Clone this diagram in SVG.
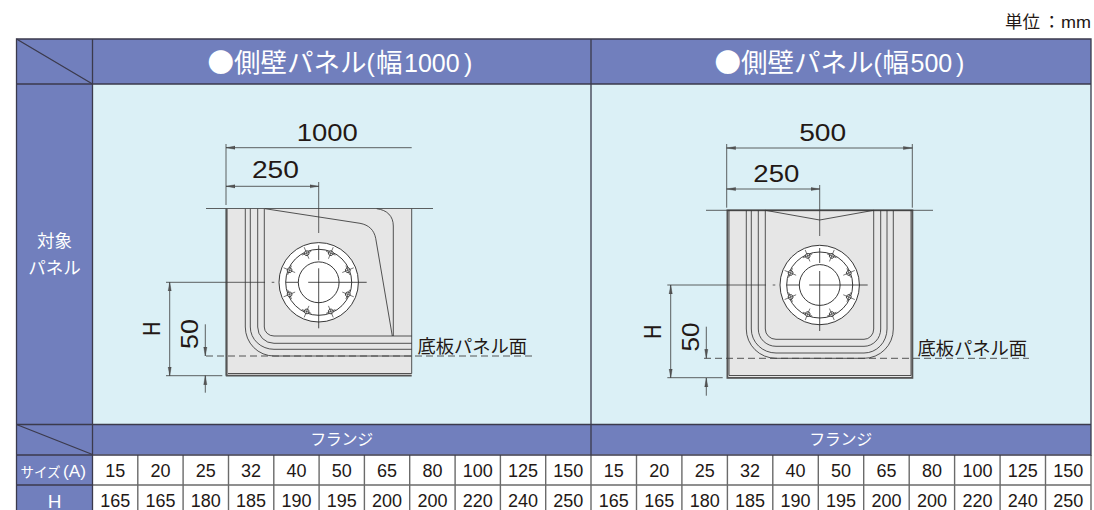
<svg xmlns="http://www.w3.org/2000/svg" width="1094" height="510" viewBox="0 0 1094 510">
<style>
text{font-family:"Liberation Sans",Arial,sans-serif;fill:#231815}
.jp{font-family:"Noto Sans CJK JP","Liberation Sans",sans-serif}
.w{fill:#fff}
.m{text-anchor:middle}
.n{font-size:18px;text-anchor:middle}
.dim{font-size:23px;text-anchor:middle}
.hd{fill:#717fbd}
.grid{stroke:#6b6b6b;stroke-width:1.4;fill:none}
.dk{stroke:#3b3a4c;stroke-width:1.3;fill:none}
.l{stroke:#2b2b2b;stroke-width:.8;fill:none}
.g{stroke:#3a3a3a;stroke-width:.8;fill:none}
.a{stroke:#3a3a3a;stroke-width:.8;fill:none;marker-end:url(#ar)}
.aa{stroke:#3a3a3a;stroke-width:.8;fill:none;marker-start:url(#ar);marker-end:url(#ar)}
.as{stroke:#3a3a3a;stroke-width:.8;fill:none;marker-start:url(#ar)}
.dash{stroke:#444;stroke-width:.9;fill:none;stroke-dasharray:7 4}
.panel{fill:#e6e6e6}
</style>
<defs>
<marker id="ar" markerUnits="userSpaceOnUse" markerWidth="10" markerHeight="6" refX="9" refY="2.5" orient="auto-start-reverse"><path d="M0 .9L9 2.5L0 4.1Z" fill="#555" stroke="#333" stroke-width=".3"/></marker>
<g id="bolt"><circle cx="0" cy="-31.5" r="2.4" fill="#e8e8e8" stroke="#333" stroke-width=".8"/><path d="M0-38V-25.5M-5-31.5H5" stroke="#333" stroke-width=".6" fill="none"/></g>
<g id="flange">
<circle r="39.7" fill="#fff" stroke="#222" stroke-width=".9"/>
<circle r="33" fill="none" stroke="#222" stroke-width=".9"/>
<circle r="20.4" fill="none" stroke="#222" stroke-width=".9"/>
<use href="#bolt" transform="rotate(22.5)"/><use href="#bolt" transform="rotate(67.5)"/><use href="#bolt" transform="rotate(112.5)"/><use href="#bolt" transform="rotate(157.5)"/><use href="#bolt" transform="rotate(202.5)"/><use href="#bolt" transform="rotate(247.5)"/><use href="#bolt" transform="rotate(292.5)"/><use href="#bolt" transform="rotate(337.5)"/>
<path d="M-33 0H-20.4M-10.5 0H48M0-37V-22M0-14V46" stroke="#222" stroke-width=".8" fill="none"/>
</g>
</defs>
<rect width="1094" height="510" fill="#fff"/>
<text x="1005" y="28" font-size="17"><tspan class="jp" font-size="17.5">単位</tspan><tspan class="jp" x="1043" font-size="17.5">：</tspan><tspan x="1061" font-size="17" textLength="30" lengthAdjust="spacingAndGlyphs">mm</tspan></text>

<g id="table-fills">
<rect class="hd" x="16.5" y="39" width="1074.5" height="45"/>
<rect class="hd" x="16.5" y="84" width="76" height="426"/>
<rect x="92.5" y="84" width="998.5" height="340.5" fill="#dbf0f6"/>
<rect class="hd" x="92.5" y="424.5" width="998.5" height="30"/>
</g>

<g id="panel-left">
<rect class="panel" x="226" y="208.7" width="185.7" height="167"/>
<path class="l" d="M226 375.7V208.7" stroke-width="1"/>
<path d="M226.7 208.7V375.7H411.7" fill="none" stroke="#555" stroke-width="1.8"/>
<path class="l" d="M228 373.5H411.7V208.7"/>
<path class="l" d="M245.3 208.7V327A28.7 29 0 0 0 274 356H411.7M250.3 208.7V327A23.7 22.3 0 0 0 274 349.3H411.7M257.7 208.7V327A16.3 16.3 0 0 0 274 343.3H411.7M264.3 208.7V327A9.7 9 0 0 0 274 336H411.7"/>
<path class="l" d="M265 208.7L360 223.3C369 225 374 230 375.7 238.3L392.3 336M376.7 208.7C387 210 393.3 216 393.3 226V336"/>
<use href="#flange" x="318.7" y="282.3"/>
<path class="g" d="M226 144V205M318.7 182V233M206 208.5H433M166 282.3H265M271.7 282.3H274.3M166 375.7H222.3"/>
<path class="as" d="M226 147.7H411.7"/>
<path class="aa" d="M226 186.3H318.7"/>
<path class="aa" d="M169.7 282.3V375.7"/>
<path class="a" d="M205.3 324.3V356"/>
<path class="a" d="M205.3 392.7V375.7"/>
<path class="dash" d="M206 356H532"/>
<text class="dim" x="327.2" y="140.7" textLength="61" lengthAdjust="spacingAndGlyphs">1000</text>
<text class="dim" x="275.4" y="178.3" textLength="47" lengthAdjust="spacingAndGlyphs">250</text>
<text class="dim" transform="translate(160 328.7) rotate(-90)" font-size="22" textLength="14" lengthAdjust="spacingAndGlyphs">H</text>
<text class="dim" transform="translate(198.3 334) rotate(-90)" textLength="30" lengthAdjust="spacingAndGlyphs">50</text>
<text class="jp m" x="472.3" y="352.5" font-size="18.3">底板パネル面</text>
</g>

<g id="panel-right">
<rect class="panel" x="726.7" y="210.3" width="186.3" height="168"/>
<rect x="727.4" y="210.3" width="185" height="167.6" fill="none" stroke="#555" stroke-width="1.8"/>
<path class="l" d="M729 375.5H911M729 210.3V375.5M911 210.3V375.5"/>
<path class="l" d="M746.3 210.3V329A29.7 29.3 0 0 0 776 358.3H864A29.3 29.3 0 0 0 893.3 329V210.3M751.3 210.3V329A24.7 24 0 0 0 776 353H864A23 24 0 0 0 887 329V210.3M758.3 210.3V329A17.7 17.3 0 0 0 776 346.3H864A16.7 17.3 0 0 0 880.7 329V210.3M765.3 210.3V329A10.7 10.3 0 0 0 776 339.3H864A9.7 10.3 0 0 0 873.7 329V210.3"/>
<path class="l" d="M765.3 210.3L819.7 220L873.7 210.3"/>
<use href="#flange" x="819.7" y="285"/>
<path class="g" d="M726.7 144V207.7M912.3 144V207.7M819.7 185V236M706 210.3H933M667.3 285H766M772.7 285H775.3M667.3 377.7H722.7"/>
<path class="aa" d="M726.7 148H912.3"/>
<path class="aa" d="M726.7 189H819.7"/>
<path class="aa" d="M670.7 285V377.7"/>
<path class="a" d="M706.3 326.7V358.3"/>
<path class="a" d="M706.3 395.7V378"/>
<path class="dash" d="M704 358.3H1029"/>
<text class="dim" x="822.7" y="140.7" textLength="47" lengthAdjust="spacingAndGlyphs">500</text>
<text class="dim" x="776.3" y="181.7" textLength="46" lengthAdjust="spacingAndGlyphs">250</text>
<text class="dim" transform="translate(661.3 331.7) rotate(-90)" font-size="22" textLength="14" lengthAdjust="spacingAndGlyphs">H</text>
<text class="dim" transform="translate(699.3 337) rotate(-90)" textLength="29" lengthAdjust="spacingAndGlyphs">50</text>
<text class="jp m" x="972.3" y="355" font-size="18.3">底板パネル面</text>
</g>

<g id="table-lines">
<path class="grid" d="M92.5 485H1091M137.8 455V510M183.1 455V510M228.5 455V510M273.8 455V510M319.1 455V510M364.4 455V510M409.7 455V510M455.1 455V510M500.4 455V510M545.7 455V510M591 455V510M636.5 455V510M681.9 455V510M727.4 455V510M772.8 455V510M818.3 455V510M863.7 455V510M909.2 455V510M954.6 455V510M1000.1 455V510M1045.5 455V510M1091 455V510"/>
<path class="dk" d="M16.5 39H1091V455H16.5ZM16.5 39V510M92.5 39V510M16.5 84H1091M16.5 424.5H1091M16.5 455H1091M16.5 485H92.5M591 39V455"/>
<path class="dk" d="M16.5 39L92.5 84M16.5 424.5L92.5 454.5" stroke-width="1"/>
</g>

<g id="headers">
<text class="w" y="71.5" font-size="26.5"><tspan class="jp w" x="207.5">●側壁パネル</tspan><tspan class="w" x="366.6" font-size="25">(</tspan><tspan class="jp w" x="376">幅</tspan><tspan class="w" x="404" font-size="25">1000</tspan><tspan class="w" x="464" font-size="25">)</tspan></text>
<text class="w" y="71.5" font-size="26.5"><tspan class="jp w" x="714.5">●側壁パネル</tspan><tspan class="w" x="873.6" font-size="25">(</tspan><tspan class="jp w" x="882.5">幅</tspan><tspan class="w" x="910.5" font-size="25">500</tspan><tspan class="w" x="956" font-size="25">)</tspan></text>
<text class="jp w m" x="54.5" y="247" font-size="17.5">対象</text>
<text class="jp w m" x="54.5" y="274" font-size="17.5">パネル</text>
<text class="jp w m" x="341.7" y="445" font-size="16" textLength="63">フランジ</text>
<text class="jp w m" x="840.7" y="445" font-size="16" textLength="63">フランジ</text>
<text class="jp w" x="20.5" y="476.5" font-size="14" textLength="40" lengthAdjust="spacingAndGlyphs">サイズ</text>
<text class="w" x="63" y="476.5" font-size="16.5" textLength="23" lengthAdjust="spacingAndGlyphs">(A)</text>
<text class="w m" x="54.5" y="507.5" font-size="19">H</text>
</g>

<g id="row-size">
<text class="n" x="115.2" y="477.3">15</text><text class="n" x="160.5" y="477.3">20</text><text class="n" x="205.8" y="477.3">25</text><text class="n" x="251.1" y="477.3">32</text><text class="n" x="296.4" y="477.3">40</text><text class="n" x="341.7" y="477.3">50</text><text class="n" x="387" y="477.3">65</text><text class="n" x="432.4" y="477.3">80</text><text class="n" x="477.7" y="477.3">100</text><text class="n" x="523" y="477.3">125</text><text class="n" x="568.3" y="477.3">150</text>
<text class="n" x="613.7" y="477.3">15</text><text class="n" x="659.2" y="477.3">20</text><text class="n" x="704.7" y="477.3">25</text><text class="n" x="750.1" y="477.3">32</text><text class="n" x="795.6" y="477.3">40</text><text class="n" x="841" y="477.3">50</text><text class="n" x="886.5" y="477.3">65</text><text class="n" x="931.9" y="477.3">80</text><text class="n" x="977.4" y="477.3">100</text><text class="n" x="1022.8" y="477.3">125</text><text class="n" x="1068.3" y="477.3">150</text>
</g>
<g id="row-h">
<text class="n" x="115.2" y="507.3">165</text><text class="n" x="160.5" y="507.3">165</text><text class="n" x="205.8" y="507.3">180</text><text class="n" x="251.1" y="507.3">185</text><text class="n" x="296.4" y="507.3">190</text><text class="n" x="341.7" y="507.3">195</text><text class="n" x="387" y="507.3">200</text><text class="n" x="432.4" y="507.3">200</text><text class="n" x="477.7" y="507.3">220</text><text class="n" x="523" y="507.3">240</text><text class="n" x="568.3" y="507.3">250</text>
<text class="n" x="613.7" y="507.3">165</text><text class="n" x="659.2" y="507.3">165</text><text class="n" x="704.7" y="507.3">180</text><text class="n" x="750.1" y="507.3">185</text><text class="n" x="795.6" y="507.3">190</text><text class="n" x="841" y="507.3">195</text><text class="n" x="886.5" y="507.3">200</text><text class="n" x="931.9" y="507.3">200</text><text class="n" x="977.4" y="507.3">220</text><text class="n" x="1022.8" y="507.3">240</text><text class="n" x="1068.3" y="507.3">250</text>
</g>
</svg>
